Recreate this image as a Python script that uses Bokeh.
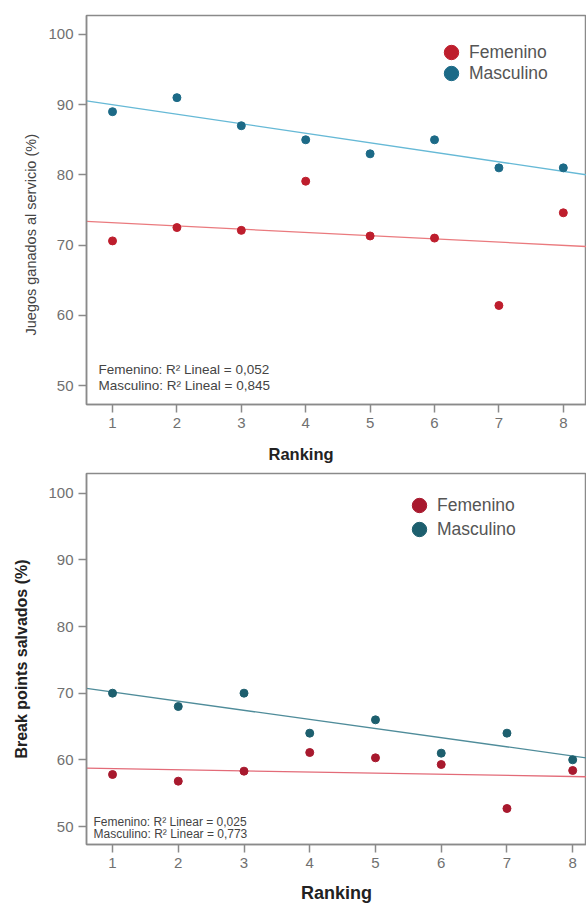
import numpy as np
from bokeh.plotting import figure
from bokeh.models import Label, Legend, LegendItem, Range1d, FixedTicker, Title
from bokeh.layouts import column
from bokeh.embed import file_html
from bokeh.resources import INLINE

# ---- data ----
ranking = [1, 2, 3, 4, 5, 6, 7, 8]
juegos_fem = [70.6, 72.5, 72.1, 79.1, 71.3, 71.0, 61.4, 74.6]
juegos_masc = [89.0, 91.0, 87.0, 85.0, 83.0, 85.0, 81.0, 81.0]
bp_fem = [57.8, 56.8, 58.3, 61.1, 60.3, 59.3, 52.7, 58.4]
bp_masc = [70.0, 68.0, 70.0, 64.0, 66.0, 61.0, 64.0, 60.0]
y_ticks = [50, 60, 70, 80, 90, 100]
series_names = ["Femenino", "Masculino"]
r2_top = ["Femenino: R\u00b2 Lineal = 0,052", "Masculino: R\u00b2 Lineal = 0,845"]
r2_bot = ["Femenino: R\u00b2 Linear = 0,025", "Masculino: R\u00b2 Linear = 0,773"]

FONT = "Liberation Sans"
AX = "#8a8a8a"


def fit_line(p, xs, ys, xr, color):
    a, b = np.polyfit(xs, ys, 1)
    xe = np.array([xr[0], xr[1]])
    p.line(xe, a * xe + b, line_color=color, line_width=1.3)


def style(p):
    p.toolbar_location = None
    p.xgrid.visible = False
    p.ygrid.visible = False
    p.outline_line_color = AX
    p.outline_line_width = 1.5
    p.background_fill_color = "white"
    p.border_fill_color = "white"
    p.xaxis.ticker = FixedTicker(ticks=ranking)
    p.yaxis.ticker = FixedTicker(ticks=y_ticks)
    for ax in (p.xaxis[0], p.yaxis[0]):
        ax.axis_line_color = AX
        ax.axis_line_width = 1.5
        ax.major_tick_line_color = AX
        ax.major_tick_line_width = 1.5
        ax.major_tick_out = 8
        ax.major_tick_in = 0
        ax.minor_tick_line_color = None
        ax.major_label_text_font = FONT
        ax.major_label_text_font_size = "15px"
        ax.major_label_text_color = "#707070"
        ax.major_label_standoff = 5


def add_legend(p, renderers, locs):
    for name, r, loc in zip(series_names, renderers, locs):
        lg = Legend(items=[LegendItem(label=name, renderers=[r])],
                    location=loc, padding=0, margin=0, spacing=0,
                    glyph_width=36, glyph_height=36, label_standoff=0,
                    label_height=20,
                    border_line_color=None, background_fill_alpha=0,
                    label_text_font=FONT, label_text_font_size="17.5px",
                    label_text_color="#555555")
        p.add_layout(lg)


# ---- top panel ----
xr1 = (0.596, 8.36)
p1 = figure(width=586, height=464, output_backend="svg", toolbar_location=None,
            x_range=Range1d(*xr1), y_range=Range1d(47.3, 102.7),
            min_border_left=86, min_border_right=0, min_border_top=15,
            min_border_bottom=60)
style(p1)
# blank spacer labels to push the side titles away from the axes
p1.xaxis.axis_label = " "
p1.xaxis.axis_label_text_font_size = "1px"
p1.xaxis.axis_label_standoff = 8
p1.yaxis.axis_label = " "
p1.yaxis.axis_label_text_font_size = "1px"
p1.yaxis.axis_label_standoff = 3
fit_line(p1, ranking, juegos_masc, xr1, "#66b9d6")
fit_line(p1, ranking, juegos_fem, xr1, "#ea7a7e")
rf1 = p1.scatter(ranking, juegos_fem, size=8, fill_color="#be1e2d", line_color="#be1e2d")
rm1 = p1.scatter(ranking, juegos_masc, size=8, fill_color="#1c6a87", line_color="#1c6a87")
add_legend(p1, [rf1, rm1], [(347, 334), (347, 313)])
for t, sy in zip(r2_top, [35, 19]):
    p1.add_layout(Label(x=12, y=sy, x_units="screen", y_units="screen", text=t,
                        text_font=FONT, text_font_size="13.5px", text_color="#444444",
                        text_baseline="middle", text_align="left"))
p1.add_layout(Title(text="Ranking", align="left", offset=182, standoff=0,
                    text_font=FONT, text_font_size="16.5px", text_font_style="bold",
                    text_color="#222222"), "below")
p1.add_layout(Title(text="Juegos ganados al servicio (%)", align="left", offset=69,
                    standoff=0, text_font=FONT, text_font_size="14.5px",
                    text_font_style="normal", text_color="#444444"), "left")

# ---- bottom panel ----
xr2 = (0.604, 8.21)
p2 = figure(width=586, height=441, output_backend="svg", toolbar_location=None,
            x_range=Range1d(*xr2), y_range=Range1d(47.3, 102.95),
            min_border_left=86, min_border_right=0, min_border_top=9,
            min_border_bottom=58)
style(p2)
p2.xaxis.axis_label = "Ranking"
p2.yaxis.axis_label = "Break points salvados (%)"
for ax in (p2.xaxis[0], p2.yaxis[0]):
    ax.axis_label_text_font = FONT
    ax.axis_label_text_font_style = "bold"
    ax.axis_label_text_color = "#222222"
p2.xaxis.axis_label_text_font_size = "18px"
p2.yaxis.axis_label_text_font_size = "16px"
p2.xaxis.axis_label_standoff = 12
p2.yaxis.axis_label_standoff = 15
fit_line(p2, ranking, bp_masc, xr2, "#4f8c9a")
fit_line(p2, ranking, bp_fem, xr2, "#e36b78")
rf2 = p2.scatter(ranking, bp_fem, size=8, fill_color="#a8192e", line_color="#a8192e")
rm2 = p2.scatter(ranking, bp_masc, size=8, fill_color="#1d5f6e", line_color="#1d5f6e")
add_legend(p2, [rf2, rm2], [(315, 321), (315, 297)])
for t, sy in zip(r2_bot, [23, 11]):
    p2.add_layout(Label(x=7, y=sy, x_units="screen", y_units="screen", text=t,
                        text_font=FONT, text_font_size="12px", text_color="#444444",
                        text_baseline="middle", text_align="left"))

layout = column(p1, p2, spacing=0)
open("out.html", "w").write(file_html(layout, INLINE))
